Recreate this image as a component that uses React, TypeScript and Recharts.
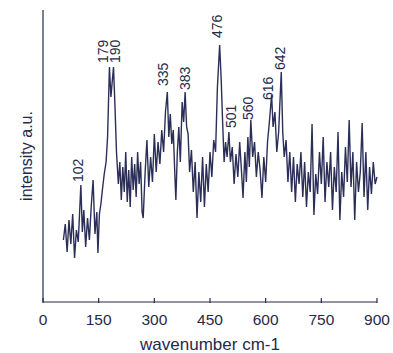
import { LineChart, Line, XAxis, YAxis, Label, ReferenceDot } from 'recharts';

const wavenumbers = [
  55, 60, 65, 70, 75, 80, 85, 90, 95, 102, 106, 110, 115, 120, 125, 130, 135, 140, 145, 148,
  152, 156, 160, 165, 170, 174, 179, 183, 186, 190, 194, 198, 203, 207, 211, 215, 219, 223, 227, 231,
  235, 239, 243, 247, 251, 255, 259, 263, 267, 270, 275, 280, 285, 290, 295, 300, 305, 310, 315, 320,
  325, 330, 335, 339, 343, 347, 351, 355, 358, 362, 366, 370, 375, 379, 383, 387, 391, 395, 400, 405,
  410, 415, 420, 425, 430, 435, 440, 445, 450, 455, 460, 465, 470, 476, 480, 484, 488, 492, 496, 501,
  505, 510, 515, 520, 525, 530, 535, 539, 544, 548, 552, 556, 560, 565, 570, 575, 580, 585, 590, 595,
  600, 605, 610, 616, 620, 625, 630, 635, 642, 646, 650, 655, 660, 665, 670, 675, 680, 685, 690, 695,
  700, 705, 710, 715, 720, 725, 730, 735, 740, 745, 750, 755, 760, 765, 770, 775, 780, 785, 790, 795,
  800, 805, 810, 815, 820, 825, 830, 835, 840, 845, 850, 855, 860, 865, 870, 875, 880, 885, 890, 895,
  900,
];

const intensity = [
  62, 78, 50, 82, 58, 88, 44, 72, 60, 117, 70, 92, 55, 84, 62, 96, 122, 68, 90, 49,
  88, 98, 112, 128, 140, 165, 235, 205, 218, 235, 195, 150, 118, 140, 102, 135, 110, 150, 100, 132,
  95, 145, 112, 138, 105, 150, 118, 140, 90, 84, 128, 162, 115, 145, 120, 168, 130, 160, 138, 172,
  150, 190, 210, 165, 188, 158, 172, 130, 102, 150, 175, 140, 200, 180, 210, 175, 168, 130, 152, 110,
  140, 84, 130, 100, 145, 95, 138, 110, 150, 125, 162, 150, 215, 257, 224, 180, 140, 160, 145, 170,
  140, 155, 118, 148, 125, 160, 130, 104, 150, 120, 165, 135, 182, 145, 160, 125, 150, 132, 104, 145,
  120, 160, 180, 207, 175, 190, 150, 170, 230, 170, 145, 162, 120, 150, 110, 145, 100, 138, 118, 150,
  105, 140, 95, 130, 110, 178, 87, 128, 108, 150, 118, 165, 100, 140, 115, 150, 92, 135, 110, 170,
  82, 130, 105, 155, 120, 182, 115, 150, 82, 140, 110, 130, 179, 105, 150, 92, 135, 108, 140, 118,
  125,
];

// peak annotations: text, where the label sits (wavenumber, intensity at label foot)
const peakNames = ['102', '179', '190', '335', '383', '476', '501', '560', '616', '642'];
const peakLabelX = [94, 162, 194, 323, 383, 469, 507, 552, 606, 639];
const peakLabelY = [120, 239, 239, 216, 212, 264, 174, 182, 202, 232];

const xTicks = [0, 150, 300, 450, 600, 750, 900];

const data = wavenumbers.map((wn, i) => ({ wn, value: intensity[i] }));

const ink = '#262a4a';
const font = '"Liberation Sans", Arial, sans-serif';

function XTick({ x, y, payload }: any) {
  return (
    <g>
      <line x1={x} y1={y - 4} x2={x} y2={y + 1} stroke={ink} strokeWidth={1.2} />
      <text x={x} y={y + 22.5} textAnchor="middle" fontSize={15.5} fontFamily={font} fill={ink}>
        {payload.value}
      </text>
    </g>
  );
}

function peakShape(name: string) {
  return ({ cx, cy }: any) => (
    <text
      x={cx}
      y={cy}
      transform={`rotate(-90, ${cx}, ${cy})`}
      textAnchor="start"
      dominantBaseline="central"
      fontSize={14}
      fontFamily={font}
      fill={ink}
    >
      {name}
    </text>
  );
}

export default function App() {
  return (
    <div style={{ position: 'absolute', left: 0, top: 0, background: '#fff' }}>
      <LineChart
        width={393}
        height={353}
        data={data}
        margin={{ top: 10, right: 16, bottom: 0, left: 0 }}
      >
        <XAxis
          dataKey="wn"
          type="number"
          domain={[0, 900]}
          ticks={xTicks}
          height={51}
          tickSize={0}
          tickMargin={0}
          tick={<XTick />}
          stroke={ink}
          strokeWidth={1.2}
          interval={0}
        >
          <Label
            value="wavenumber cm-1"
            position="insideBottom"
            offset={3}
            style={{ fontSize: 17, fontFamily: font, fill: ink }}
          />
        </XAxis>
        <YAxis
          type="number"
          domain={[0, 292]}
          width={43}
          tick={false}
          tickLine={false}
          stroke={ink}
          strokeWidth={1.2}
        >
          <Label
            value="intensity a.u."
            angle={-90}
            position="insideLeft"
            offset={26}
            style={{ fontSize: 16, fontFamily: font, fill: ink, textAnchor: 'middle' }}
          />
        </YAxis>
        <Line
          dataKey="value"
          type="linear"
          stroke="#2b2f58"
          strokeWidth={1.4}
          dot={false}
          isAnimationActive={false}
        />
        {peakNames.map((name, i) => (
          <ReferenceDot
            key={name}
            x={peakLabelX[i]}
            y={peakLabelY[i]}
            r={1}
            shape={peakShape(name)}
          />
        ))}
      </LineChart>
    </div>
  );
}
